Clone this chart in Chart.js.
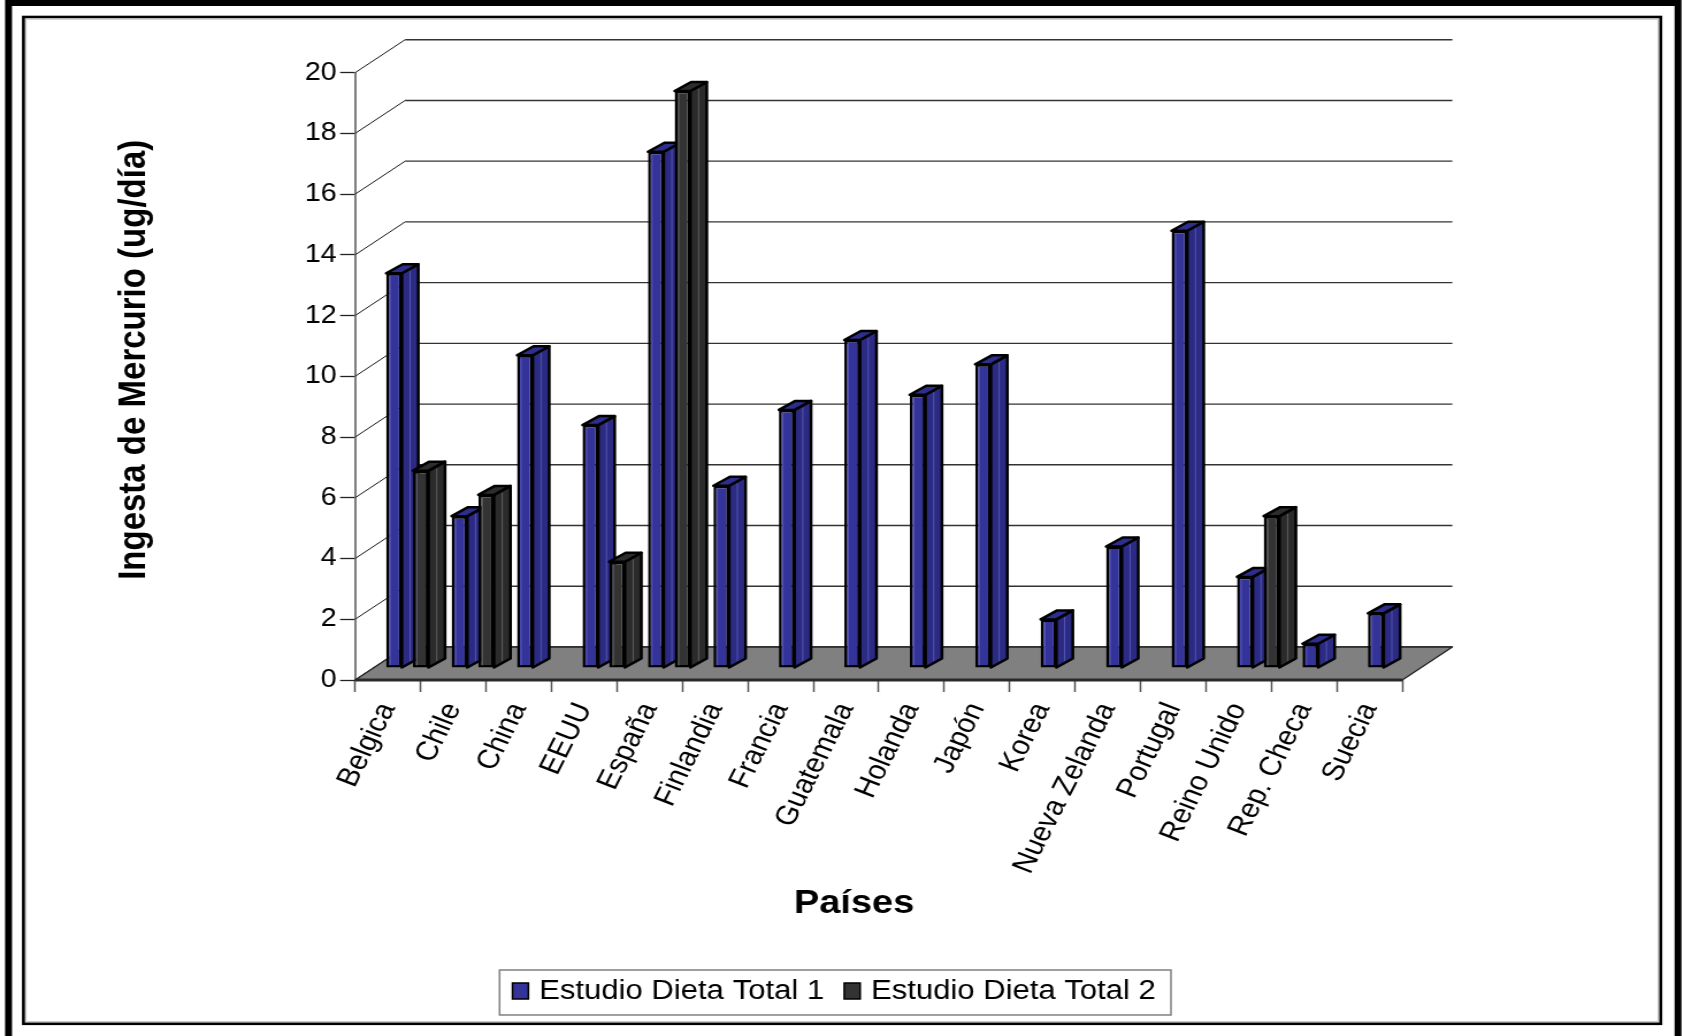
<!DOCTYPE html>
<html lang="es">
<head>
<meta charset="utf-8">
<title>Ingesta de Mercurio por país</title>
<script src="https://cdn.jsdelivr.net/npm/chart.js@4.4.1/dist/chart.umd.min.js"></script>
<style>
  html, body { margin: 0; padding: 0; background: #fff; overflow: hidden; }
  /* the drawing is laid out narrower and widened horizontally */
  #wrap { position: absolute; left: 0; top: 0; width: 1464px; height: 1036px;
          transform: scaleX(1.15027); transform-origin: 0 0; }
</style>
</head>
<body>
<div id="wrap"><canvas id="grafico"></canvas></div>
<script>
// ---- data ----
const paises = ['Belgica', 'Chile', 'China', 'EEUU', 'España', 'Finlandia', 'Francia', 'Guatemala',
                'Holanda', 'Japón', 'Korea', 'Nueva Zelanda', 'Portugal', 'Reino Unido', 'Rep. Checa', 'Suecia'];
const estudio1 = [13.0, 5.0, 10.3, 8.0, 17.0, 6.0, 8.5, 10.8, 9.0, 10.0, 1.6, 4.0, 14.4, 3.0, 0.8, 1.8];
const estudio2 = [6.5, 5.7, null, 3.5, 19.0, null, null, null, null, null, null, null, null, 5.0, null, null];
const series = ['Estudio Dieta Total 1', 'Estudio Dieta Total 2'];
const ejeY = { min: 0, max: 20, paso: 2 };
const tituloY = 'Ingesta de Mercurio (ug/día)';
const tituloX = 'Países';

// ---- look ----
const FUENTE = '"Liberation Sans", Arial, Helvetica, sans-serif';
const PROF = { dx: 43.5, dy: -33 };        // depth of the walls and floor
const DESPLAZ = { dx: 17, dy: -12 };       // bars stand part-way into the floor
const LADO = { dx: 14.3, dy: -9 };         // thickness of each bar
const COLORES = [
  { frente: '#333399', lado: '#2b2b84', tapa: '#2e2e8c', brillo: 'rgba(120,120,215,0.55)' },
  { frente: '#333333', lado: '#2b2b2b', tapa: '#2d2d2d', brillo: 'rgba(130,130,130,0.6)' }
];

function poligono(ctx, pts, relleno, trazo, ancho) {
  ctx.beginPath();
  ctx.moveTo(pts[0][0], pts[0][1]);
  for (let i = 1; i < pts.length; i++) ctx.lineTo(pts[i][0], pts[i][1]);
  ctx.closePath();
  if (relleno) { ctx.fillStyle = relleno; ctx.fill(); }
  if (trazo) { ctx.strokeStyle = trazo; ctx.lineWidth = ancho; ctx.lineJoin = 'round'; ctx.stroke(); }
}

const escena3d = {
  id: 'escena3d',
  beforeDraw(chart) {
    const { ctx, width, height } = chart;
    ctx.save();
    ctx.fillStyle = '#fff';
    ctx.fillRect(0, 0, width, height);
    // outer heavy frame (open at the bottom edge of the page)
    ctx.strokeStyle = '#000';
    ctx.lineWidth = 6;
    ctx.lineJoin = 'miter';
    ctx.beginPath();
    ctx.moveTo(7.4, height + 10);
    ctx.lineTo(7.4, 3);
    ctx.lineTo(1458.8, 3);
    ctx.lineTo(1458.8, height + 10);
    ctx.stroke();
    // inner frame
    ctx.lineWidth = 2.6;
    ctx.strokeRect(20.4, 17, 1423.4, 1006.8);
    ctx.strokeStyle = '#c8c8c8';
    ctx.lineWidth = 1;
    ctx.strokeRect(22.7, 19.3, 1418.8, 1002.2);
    ctx.restore();
  },
  beforeDatasetsDraw(chart) {
    const { ctx, chartArea: a, scales: { y } } = chart;
    ctx.save();
    // side wall and back wall grid lines
    y.ticks.forEach(t => {
      const py = y.getPixelForValue(t.value);
      ctx.beginPath();
      ctx.moveTo(a.left, py);
      ctx.lineTo(a.left + PROF.dx, py + PROF.dy);
      ctx.strokeStyle = '#1a1a1a';
      ctx.lineWidth = 1;
      ctx.stroke();
      ctx.beginPath();
      ctx.moveTo(a.left + PROF.dx, py + PROF.dy);
      ctx.lineTo(a.right + PROF.dx, py + PROF.dy);
      ctx.strokeStyle = '#333';
      ctx.lineWidth = 1.4;
      ctx.stroke();
    });
    // floor
    const y0 = y.getPixelForValue(0);
    poligono(ctx, [[a.left, y0], [a.right, y0], [a.right + PROF.dx, y0 + PROF.dy], [a.left + PROF.dx, y0 + PROF.dy]],
             '#808080', '#222', 1.3);
    ctx.beginPath();
    ctx.moveTo(a.left, y0);
    ctx.lineTo(a.right, y0);
    ctx.strokeStyle = '#2a2a2a';
    ctx.lineWidth = 3;
    ctx.stroke();
    ctx.restore();
  },
  beforeDatasetDraw() {
    // bars are drawn together below, in depth order
    return false;
  },
  afterDatasetsDraw(chart) {
    const ctx = chart.ctx;
    ctx.save();
    ctx.translate(DESPLAZ.dx, DESPLAZ.dy);
    for (let i = 0; i < chart.data.labels.length; i++) {
      chart.data.datasets.forEach((ds, d) => {
        if (ds.data[i] == null) return;
        const el = chart.getDatasetMeta(d).data[i];
        const { x, y, base, width } = el.getProps(['x', 'y', 'base', 'width'], true);
        const L = x - width / 2, R = x + width / 2;
        const c = COLORES[d];
        el.draw(ctx);
        // soft highlight stripe on the front face
        ctx.beginPath();
        ctx.moveTo(L + 3.5, y + 3);
        ctx.lineTo(L + 3.5, base - 2);
        ctx.strokeStyle = c.brillo;
        ctx.lineWidth = 1;
        ctx.stroke();
        // right side face
        poligono(ctx, [[R, y], [R + LADO.dx, y + LADO.dy], [R + LADO.dx, base + LADO.dy], [R, base]],
                 c.lado, '#000', 2.5);
        ctx.beginPath();
        ctx.moveTo(R + LADO.dx * 0.5, y + LADO.dy * 0.5 + 2);
        ctx.lineTo(R + LADO.dx * 0.5, base + LADO.dy * 0.5 - 2);
        ctx.strokeStyle = c.brillo;
        ctx.lineWidth = 1;
        ctx.stroke();
        // top cap
        poligono(ctx, [[L, y], [R, y], [R + LADO.dx, y + LADO.dy], [L + LADO.dx, y + LADO.dy]],
                 c.tapa, '#000', 2.5);
      });
    }
    ctx.restore();
  },
  afterDraw(chart) {
    const ctx = chart.ctx;
    ctx.save();
    ctx.fillStyle = '#000';
    // axis titles
    ctx.font = 'bold 33px ' + FUENTE;
    ctx.textAlign = 'center';
    ctx.textBaseline = 'alphabetic';
    ctx.fillText(tituloX, 742.5, 913);
    ctx.save();
    ctx.translate(126, 359.8);
    ctx.rotate(-Math.PI / 2);
    ctx.fillText(tituloY, 0, 0);
    ctx.restore();
    // legend
    ctx.strokeStyle = '#808080';
    ctx.lineWidth = 1.5;
    ctx.strokeRect(434.3, 970, 583.7, 45);
    const marcas = [445.5, 733.9];
    const textos = [468.8, 757.2];
    ctx.font = '27px ' + FUENTE;
    ctx.textAlign = 'left';
    chart.data.datasets.forEach((ds, d) => {
      ctx.fillStyle = ds.backgroundColor;
      ctx.fillRect(marcas[d], 983, 13.9, 16);
      ctx.strokeStyle = '#000';
      ctx.lineWidth = 1.5;
      ctx.strokeRect(marcas[d], 983, 13.9, 16);
      ctx.fillStyle = '#000';
      ctx.fillText(ds.label, textos[d], 999);
    });
    ctx.restore();
  }
};

new Chart(document.getElementById('grafico'), {
  type: 'bar',
  data: {
    labels: paises,
    datasets: [
      { label: series[0], data: estudio1, backgroundColor: COLORES[0].frente,
        borderColor: '#000', borderWidth: 2.5, borderSkipped: false },
      { label: series[1], data: estudio2, backgroundColor: COLORES[1].frente,
        borderColor: '#000', borderWidth: 2.5, borderSkipped: false }
    ]
  },
  options: {
    responsive: true,
    maintainAspectRatio: false,
    animation: false,
    events: [],
    layout: { padding: { left: 248.7, right: 244.9, top: 72.7, bottom: 156 } },
    datasets: { bar: { categoryPercentage: 0.8155, barPercentage: 0.588 } },
    plugins: { legend: { display: false }, tooltip: { enabled: false } },
    scales: {
      x: {
        grid: { offset: true, drawOnChartArea: false, drawTicks: true, tickLength: 12,
                tickColor: '#555', tickWidth: 1.5 },
        border: { display: false },
        ticks: { autoSkip: false, minRotation: 66, maxRotation: 66, padding: 6,
                 color: '#000', font: { family: FUENTE, size: 27 } },
        afterFit(s) { s.height = 200; }
      },
      y: {
        min: ejeY.min,
        max: ejeY.max,
        ticks: { stepSize: ejeY.paso, padding: 3, color: '#000', font: { family: FUENTE, size: 25 } },
        grid: { drawOnChartArea: false, drawTicks: true, tickLength: 13, tickColor: '#222', tickWidth: 1.3 },
        border: { display: true, color: '#808080', width: 2 },
        afterFit(s) { s.width = 60; }
      }
    }
  },
  plugins: [escena3d]
});
</script>
</body>
</html>
